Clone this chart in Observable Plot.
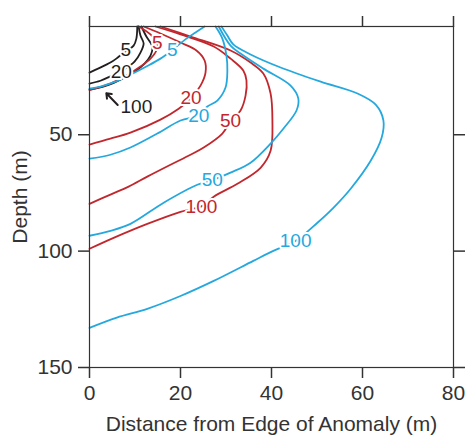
<!DOCTYPE html>
<html>
<head>
<meta charset="utf-8">
<script src="https://cdn.jsdelivr.net/npm/d3@7"></script>
<script src="https://cdn.jsdelivr.net/npm/@observablehq/plot@0.6"></script>
<style>
  html, body { margin: 0; padding: 0; background: #fff; }
  #chart svg { font-family: "Liberation Sans", Arial, Helvetica, sans-serif; }
</style>
</head>
<body>
<div id="chart"></div>
<script>
// Contour lines: [distance (m), depth (m)]
const black5 = [[10.5,3.5],[10.3,8.7],[9.7,11.7],[8.0,14.0],[5.9,17.3],[4.6,19.0],[2.0,21.5],[0,23.3]];
const black20 = [[10.8,3.5],[11.2,7.4],[11.9,10.8],[11.2,14.7],[9.9,18.6],[8.6,20.6],[7.0,22.6],[4.6,24.9],[2.4,26.8],[0,28.0]];
const black100 = [[11.4,3.5],[12.5,7.8],[13.8,12.1],[13.4,16.0],[12.1,19.4],[9.9,22.9],[6.8,26.3],[3.7,28.9],[0,30.6]];
const red5 = [[10.8,3.5],[13.4,6.9],[14.9,10.6],[14.7,13.8],[13.4,17.3],[11.2,20.7],[8.1,24.6],[4.6,28.0],[0,30.8]];
const red20 = [[11.9,3.5],[15.6,6.5],[20.0,10.4],[23.5,13.8],[25.3,18.1],[25.5,23.3],[24.4,28.9],[22.2,34.6],[19.6,38.8],[15.6,43.5],[9.0,49.1],[4.6,51.7],[0,54.2]];
const red50 = [[14.5,3.5],[20.0,6.9],[27.3,12.1],[31.0,17.3],[33.8,22.4],[34.5,26.7],[34.3,33.2],[33.2,39.6],[31.0,44.2],[29.2,49.5],[25.1,55.5],[22.2,58.6],[17.8,62.9],[12.7,68.0],[8.6,72.3],[4.6,75.7],[0,79.7]];
const red100 = [[15.6,3.5],[22.2,7.8],[31.0,13.8],[35.4,19.0],[38.2,23.7],[39.8,32.3],[40.2,43.9],[39.8,56.9],[37.6,64.2],[32.5,71.1],[27.3,76.6],[24.6,80.8],[20.0,83.1],[12.7,88.3],[5.3,94.3],[0,99.0]];
const blue5 = [[25.3,3.5],[23.3,6.1],[21.3,8.7],[18.2,13.6],[15.6,17.3],[12.5,20.7],[9.0,24.2],[5.7,27.2],[2.4,29.3],[0,30.2]];
const blue20 = [[27.7,3.5],[29.2,8.7],[30.1,16.0],[30.3,22.4],[29.9,29.7],[28.1,35.3],[25.9,37.9],[24.0,41.6],[20.0,43.9],[14.9,49.5],[9.0,55.5],[4.6,58.6],[0,60.3]];
const blue50 = [[28.4,3.5],[31.0,11.7],[33.2,15.1],[38.2,21.6],[44.2,28.9],[45.9,34.5],[45.5,39.6],[42.6,47.4],[39.8,53.8],[35.4,62.0],[31.0,66.3],[27.0,69.5],[23.7,71.5],[16.3,79.2],[9.0,88.3],[4.6,91.3],[0,93.4]];
const blue100 = [[29.0,3.5],[30.3,7.4],[31.6,11.2],[35.4,15.5],[42.0,21.1],[50.8,27.2],[58.9,32.3],[62.9,37.1],[64.6,43.9],[64.2,51.3],[61.8,61.2],[57.4,73.2],[53.6,81.4],[50.1,87.8],[45.3,95.6],[40.4,99.9],[36.0,104.2],[27.3,112.8],[20.0,119.3],[12.7,124.8],[6.0,128.6],[0,133.0]];

// Contour labels: [series, text, distance, depth]
const contourLabels = [
  ["black","5",8.0,13.6],["black","20",7.0,22.8],["black","100",10.3,37.9],
  ["red","5",14.9,10.6],["red","20",22.3,34.2],["red","50",31.0,44.2],["red","100",24.6,80.8],
  ["blue","5",18.2,13.6],["blue","20",24.0,42.0],["blue","50",27.0,69.5],["blue","100",45.3,95.6]
];
// Arrow pointing to the black 100 contour
const arrowFrom = [6.2, 37.2];
const arrowTo = [3.7, 32.2];

const xTicks = [0, 20, 40, 60, 80];
const yTicks = [50, 100, 150];

const colors = {black: "#231f20", red: "#c1272d", blue: "#25a8de"};
const series = [
  ["black","5",black5],["black","20",black20],["black","100",black100],
  ["red","5",red5],["red","20",red20],["red","50",red50],["red","100",red100],
  ["blue","5",blue5],["blue","20",blue20],["blue","50",blue50],["blue","100",blue100]
];
const rows = series.flatMap(([s, lvl, pts]) => pts.map(([x, d]) => ({key: s + lvl, s, x, d})));
const labels = contourLabels.map(([s, t, x, d]) => ({s, t, x, d}));

const axisColor = "#333";
const chart = Plot.plot({
  width: 465,
  height: 436,
  marginLeft: 89,
  marginRight: 12,
  marginTop: 26,
  marginBottom: 69,
  style: {fontFamily: "'Liberation Sans', Arial, sans-serif", color: axisColor, background: "#fff"},
  x: {domain: [0, 80]},
  y: {domain: [3.5, 150], reverse: true},
  marks: [
    Plot.line(rows, {x: "x", y: "d", z: "key", stroke: d => colors[d.s], strokeWidth: 1.8, curve: "catmull-rom"}),
    Plot.text(labels, {x: "x", y: "d", text: "t", fill: d => colors[d.s], fontSize: 19, stroke: "white", strokeWidth: 4, paintOrder: "stroke"}),
    Plot.arrow([{x1: arrowFrom[0], y1: arrowFrom[1], x2: arrowTo[0], y2: arrowTo[1]}], {x1: "x1", y1: "y1", x2: "x2", y2: "y2", stroke: colors.black, strokeWidth: 2, headLength: 10, headAngle: 75}),
    Plot.frame({stroke: axisColor, strokeWidth: 1.2}),
    Plot.axisX({anchor: "bottom", ticks: xTicks, tickSize: 11, tickPadding: 7, fontSize: 21, stroke: axisColor, strokeWidth: 1.5, label: "Distance from Edge of Anomaly (m)", labelAnchor: "center", labelArrow: "none", labelOffset: 63}),
    Plot.axisX({anchor: "top", ticks: xTicks, tickSize: 11, tickFormat: () => "", stroke: axisColor, strokeWidth: 1.5, label: null}),
    Plot.axisY({anchor: "left", ticks: yTicks, tickSize: 11, tickPadding: 6, fontSize: 21, stroke: axisColor, strokeWidth: 1.5, label: "Depth (m)", labelAnchor: "center", labelArrow: "none", labelOffset: 77}),
    Plot.axisY({anchor: "right", ticks: yTicks, tickSize: 11, tickFormat: () => "", stroke: axisColor, strokeWidth: 1.5, label: null})
  ]
});
document.getElementById("chart").appendChild(chart);
</script>
</body>
</html>
